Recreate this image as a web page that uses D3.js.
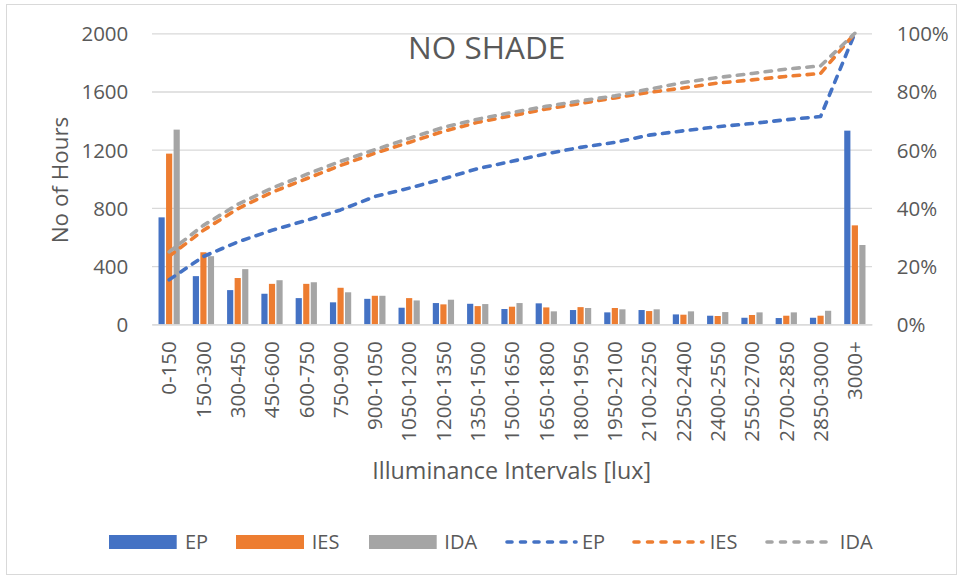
<!DOCTYPE html>
<html>
<head>
<meta charset="utf-8">
<script src="https://cdn.jsdelivr.net/npm/d3@7/dist/d3.min.js"></script>
<style>
  html, body { margin: 0; padding: 0; background: #ffffff; }
  svg { display: block; font-family: "Open Sans", "Noto Sans", sans-serif; }
</style>
</head>
<body>
<svg id="chart" width="963" height="579"></svg>
<script>
// Illuminance intervals (lux)
const categories = ["0-150", "150-300", "300-450", "450-600", "600-750", "750-900",
  "900-1050", "1050-1200", "1200-1350", "1350-1500", "1500-1650", "1650-1800",
  "1800-1950", "1950-2100", "2100-2250", "2250-2400", "2400-2550", "2550-2700",
  "2700-2850", "2850-3000", "3000+"];

// Hours per interval (primary axis)
const hoursEP  = [735, 331, 235, 210, 180, 151, 175, 114, 146, 141, 105, 144, 98, 82, 98, 68, 59, 45, 43, 45, 1331];
const hoursIES = [1173, 495, 318, 278, 278, 251, 196, 180, 137, 125, 121, 116, 118, 112, 91, 66, 57, 64, 59, 59, 680];
const hoursIDA = [1338, 468, 379, 303, 289, 220, 196, 164, 169, 139, 146, 89, 112, 103, 103, 89, 84, 82, 82, 93, 545];

// Cumulative share of hours, percent (secondary axis)
const cumEP  = [15.3, 23.3, 28.3, 32.3, 35.7, 39.3, 43.9, 46.8, 50.0, 53.5, 56.0, 58.6, 60.8, 62.5, 65.0, 66.5, 67.9, 69.0, 70.3, 71.4, 100];
const cumIES = [23.4, 32.3, 39.7, 45.4, 50.0, 54.6, 58.8, 62.5, 66.3, 69.4, 71.7, 74.0, 75.9, 77.8, 79.7, 81.2, 82.9, 84.0, 85.2, 86.2, 100];
const cumIDA = [24.9, 34.0, 41.2, 46.8, 51.5, 56.0, 60.0, 63.9, 67.7, 70.5, 72.8, 74.9, 76.8, 78.5, 80.8, 83.1, 84.8, 86.2, 87.7, 88.8, 100];

const seriesNames = ["EP", "IES", "IDA"];
const leftTicks = [0, 400, 800, 1200, 1600, 2000];
const rightTicks = [0, 20, 40, 60, 80, 100];

const colors = { EP: "#4472C4", IES: "#ED7D31", IDA: "#A5A5A5" };
const textColor = "#595959";
const gridColor = "#D9D9D9";

const barSeries = [
  { name: "EP", values: hoursEP },
  { name: "IES", values: hoursIES },
  { name: "IDA", values: hoursIDA }
];
const lineSeries = [
  { name: "EP", values: cumEP },
  { name: "IES", values: cumIES },
  { name: "IDA", values: cumIDA }
];

const svg = d3.select("#chart");

// Chart frame
svg.append("rect")
  .attr("x", 6.5).attr("y", 4.5).attr("width", 950).attr("height", 570)
  .attr("fill", "#fff").attr("stroke", gridColor).attr("stroke-width", 1);

const plot = { left: 152, right: 872, top: 33.3, bottom: 324.3 };

const x = d3.scaleBand().domain(categories).range([plot.left, plot.right]).padding(0);
const groupW = x.step() * 0.62;
const xs = d3.scaleBand().domain(seriesNames)
  .range([(x.step() - groupW) / 2, (x.step() + groupW) / 2]).paddingInner(0.18);
const y = d3.scaleLinear().domain([0, 2000]).range([plot.bottom, plot.top]);
const y2 = d3.scaleLinear().domain([0, 100]).range([plot.bottom, plot.top]);

// Horizontal gridlines
const grid = svg.append("g").attr("transform", `translate(${plot.left},0)`)
  .call(d3.axisLeft(y).tickValues(leftTicks).tickSize(-(plot.right - plot.left)).tickFormat(""));
grid.select(".domain").remove();
grid.selectAll("line").attr("stroke", gridColor).attr("stroke-width", 1.3);

// Left axis labels
const yAxis = svg.append("g").attr("transform", `translate(${plot.left},0)`)
  .call(d3.axisLeft(y).tickValues(leftTicks).tickSize(0).tickPadding(23.7).tickFormat(d3.format("d")));
yAxis.select(".domain").remove();
yAxis.selectAll("text")
  .attr("fill", textColor).attr("font-size", "20.5px").attr("dy", "0.357em")
  .attr("font-family", "Open Sans");

// Right axis labels
const y2Axis = svg.append("g").attr("transform", `translate(${plot.right},0)`)
  .call(d3.axisRight(y2).tickValues(rightTicks).tickSize(0).tickPadding(24.7).tickFormat(d => d + "%"));
y2Axis.select(".domain").remove();
y2Axis.selectAll("text")
  .attr("fill", textColor).attr("font-size", "20.5px").attr("dy", "0.357em")
  .attr("font-family", "Open Sans");

// Bars
const groups = svg.append("g").selectAll("g")
  .data(categories).join("g")
  .attr("transform", d => `translate(${x(d)},0)`);
groups.selectAll("rect")
  .data((d, i) => barSeries.map(s => ({ name: s.name, value: s.values[i] })))
  .join("rect")
  .attr("x", d => xs(d.name))
  .attr("width", xs.bandwidth())
  .attr("y", d => y(d.value))
  .attr("height", d => y(0) - y(d.value))
  .attr("fill", d => colors[d.name]);

// Category axis
const xAxis = svg.append("g").attr("transform", `translate(0,${plot.bottom})`)
  .call(d3.axisBottom(x).tickSize(0));
xAxis.select(".domain").attr("stroke", gridColor).attr("stroke-width", 1.3);
xAxis.selectAll("text")
  .attr("transform", "rotate(-90)")
  .attr("x", -17).attr("y", 0).attr("dy", "0.357em")
  .attr("text-anchor", "end")
  .attr("fill", textColor).attr("font-size", "20.5px")
  .attr("font-family", "Open Sans");

// Cumulative lines
const line = d3.line()
  .x((d, i) => x(categories[i]) + x.bandwidth() / 2)
  .y(d => y2(d));
svg.append("g").selectAll("path")
  .data(lineSeries).join("path")
  .attr("d", d => line(d.values))
  .attr("fill", "none")
  .attr("stroke", d => colors[d.name])
  .attr("stroke-width", 3.6)
  .attr("stroke-linecap", "round")
  .attr("stroke-linejoin", "round")
  .attr("stroke-dasharray", "6.5,7.5");

// Title
svg.append("text")
  .attr("x", 486.7).attr("y", 59.3)
  .attr("text-anchor", "middle")
  .attr("fill", textColor).attr("font-size", "31.5px")
  .text("NO SHADE");

// Axis titles
svg.append("text")
  .attr("transform", "translate(68,180) rotate(-90)")
  .attr("text-anchor", "middle")
  .attr("fill", textColor).attr("font-size", "22.4px")
  .text("No of Hours");

svg.append("text")
  .attr("x", 511.7).attr("y", 479)
  .attr("text-anchor", "middle")
  .attr("fill", textColor).attr("font-size", "23.3px")
  .text("Illuminance Intervals [lux]");

// Legend
const legendY = 542;
const legendItems = [
  { type: "bar", name: "EP", x0: 109, x1: 176.7, tx: 185 },
  { type: "bar", name: "IES", x0: 236, x1: 304, tx: 311.7 },
  { type: "bar", name: "IDA", x0: 369, x1: 436.7, tx: 444.3 },
  { type: "line", name: "EP", x0: 507, x1: 576, tx: 582 },
  { type: "line", name: "IES", x0: 634, x1: 703, tx: 709.7 },
  { type: "line", name: "IDA", x0: 767, x1: 834, tx: 839.8 }
];
const legend = svg.append("g");
legend.selectAll("rect")
  .data(legendItems.filter(d => d.type === "bar")).join("rect")
  .attr("x", d => d.x0).attr("y", legendY - 7)
  .attr("width", d => d.x1 - d.x0).attr("height", 14)
  .attr("fill", d => colors[d.name]);
legend.selectAll("line")
  .data(legendItems.filter(d => d.type === "line")).join("line")
  .attr("x1", d => d.x0).attr("x2", d => d.x1)
  .attr("y1", legendY).attr("y2", legendY)
  .attr("stroke", d => colors[d.name])
  .attr("stroke-width", 3.6)
  .attr("stroke-linecap", "round")
  .attr("stroke-dasharray", "5,8.5");
legend.selectAll("text")
  .data(legendItems).join("text")
  .attr("x", d => d.tx).attr("y", legendY).attr("dy", "0.357em")
  .attr("fill", textColor).attr("font-size", "20px")
  .text(d => d.name);
</script>
</body>
</html>
